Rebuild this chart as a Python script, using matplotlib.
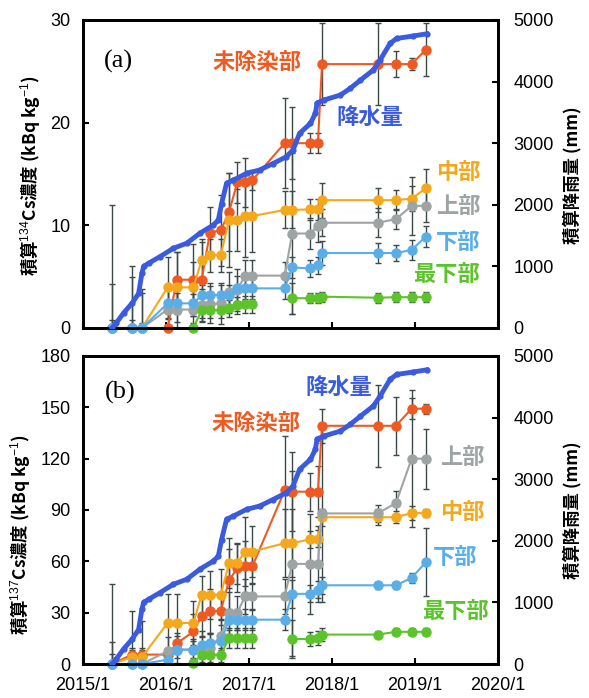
import numpy as np
import matplotlib.pyplot as plt

plt.rcParams['font.family'] = ['Liberation Sans', 'Noto Sans CJK JP', 'DejaVu Sans']
plt.rcParams['mathtext.fontset'] = 'custom'
plt.rcParams['mathtext.rm'] = 'Liberation Sans'
plt.rcParams['mathtext.it'] = 'Liberation Sans'
plt.rcParams['mathtext.bf'] = 'Liberation Sans:bold'

nan = np.nan

# sampling dates (decimal years)
dates = [2015.35, 2015.59, 2015.71, 2016.02, 2016.13, 2016.33, 2016.43, 2016.53, 2016.66,
         2016.76, 2016.86, 2016.95, 2017.04, 2017.43, 2017.52, 2017.73, 2017.83, 2017.88,
         2018.55, 2018.77, 2018.96, 2019.13]

# (a) cumulative 134Cs (kBq/kg)
mijosen_134 = [0, 0, 0, 0, 4.7, 4.7, 4.7, 9.3, 9.5, 11.3, 14.2, 14.2, 14.4, 18.0, 18.0, 18.0, 18.0,
               25.7, 25.7, 25.7, 25.7, 27.1]
mijosen_134_err = [0, 0, 0, 0, 2.7, 3.5, 4.0, 2.5, 3.5, 3.8, 2.0, 2.4, 1.0, 4.4, 3.5, 1.0, 1.0,
                   4.0, 4.0, 1.3, 0.6, 2.6]
chubu_134 = [0, 0, 0, 3.96, 3.96, 3.96, 6.6, 7.1, 7.1, 10.5, 10.5, 10.9, 10.9, 11.5, 11.5, 11.55, 11.55,
             12.45, 12.45, 12.45, 12.6, 13.6]
chubu_134_err = [0.8, 0.8, 0.5, 3.0, 3.4, 2.5, 1.8, 1.6, 1.6, 4.6, 3.0, 4.0, 3.5, 1.8, 1.8, 1.0, 1.0,
                 1.7, 1.2, 1.0, 1.2, 1.9]
jobu_134 = [0, 0, 0, 1.8, 1.8, 1.8, 2.2, 2.3, 2.4, 3.5, 3.7, 5.1, 5.1, 5.1, 9.2, 9.2, 9.9,
            10.25, 10.25, 10.6, 11.9, 11.9]
jobu_134_err = [12.0, 6.0, 3.8, 2.0, 2.0, 1.5, 1.6, 1.8, 2.0, 2.0, 2.0, 1.5, 1.5, 1.3, 7.8, 1.5, 1.5,
                1.3, 1.4, 1.0, 2.8, 1.6]
kabu_134 = [0, 0, 0, 2.4, 2.4, 2.4, 3.2, 3.2, 3.2, 3.2, 3.86, 3.86, 3.86, 3.86, 5.9, 5.8, 6.1,
            7.3, 7.3, 7.3, 7.6, 8.9]
kabu_134_err = [4.3, 5.0, 3.4, 1.5, 1.0, 1.2, 1.0, 1.2, 1.0, 1.0, 1.2, 1.0, 1.0, 1.0, 1.0, 0.8, 0.8,
                1.2, 1.0, 0.8, 1.0, 1.0]
saikabu_134 = [nan, nan, nan, nan, nan, 0, 1.75, 1.75, 1.75, 1.9, 2.2, 2.3, 2.3, nan, 2.9, 2.9, 2.9,
               3.05, 2.95, 3.0, 3.0, 3.0]
saikabu_134_err = [nan, nan, nan, nan, nan, 0.5, 0.8, 0.8, 0.8, 0.8, 0.8, 0.8, 0.8, nan, 1.5, 0.5, 0.5,
                   0.5, 0.5, 0.5, 0.5, 0.5]

# (b) cumulative 137Cs (kBq/kg)
mijosen_137 = [0, 5.5, 5.5, 5.5, 12.0, 19.0, 28.0, 31.0, 31.0, 49.0, 56.0, 57.0, 57.0, 101.5, 100.7,
               100.7, 100.7, 139.2, 139.2, 139.2, 149.2, 149.2]
mijosen_137_err = [0, 4, 4, 4, 6, 10, 12, 13, 8, 18, 14, 15, 10, 32, 23, 11, 15, 10, 24, 17, 6, 3]
chubu_137 = [0, 4.0, 4.0, 24.0, 24.0, 24.0, 40.5, 40.5, 40.5, 59.0, 59.0, 65.7, 65.7, 70.6, 70.6,
             72.8, 73.2, 85.8, 85.8, 85.8, 88.2, 88.2]
chubu_137_err = [13, 4, 4, 17, 17, 13, 11, 14, 15, 14.5, 12, 20, 15, 20, 20, 5, 5, 5, 4.5, 3.5, 4, 2.5]
jobu_137 = [0, 0, 0, 7.5, 8.4, 8.4, 9.3, 9.3, 16.5, 29.8, 29.8, 39.5, 39.5, 39.5, 58.5, 58.5, 58.5,
            88.0, 88.0, 94.0, 120.0, 120.0]
jobu_137_err = [47, 31, 25, 8, 8, 6, 10, 9, 10, 12, 10, 10, 8, 10, 54, 29, 22, 52, 5, 7, 40, 17.5]
kabu_137 = [0, 0, 0, 2.5, 8.4, 8.4, 11.3, 12.3, 13.2, 25.9, 25.9, 25.9, 25.9, 25.9, 41.0, 41.0, 43.5,
            46.0, 46.0, 46.0, 50.3, 59.5]
kabu_137_err = [6, 6, 5, 4, 5, 5, 5, 5, 5, 6, 6, 6, 6, 6, 8, 5, 5, 5, 2, 2, 3, 20]
saikabu_137 = [nan, nan, nan, nan, nan, 0.6, 5.4, 5.4, 5.4, 15.2, 15.2, 15.2, 15.2, nan, 14.6, 14.6,
               15.0, 17.2, 17.2, 18.8, 18.8, 18.8]
saikabu_137_err = [nan, nan, nan, nan, nan, 2, 4, 4, 4, 6, 6, 6, 6, nan, 11, 4, 4, 4, 2, 2, 2, 2]

# cumulative precipitation (mm)
rain_dates = [2015.35, 2015.40, 2015.49, 2015.59, 2015.67, 2015.71, 2015.73, 2015.79, 2015.93, 2016.09,
              2016.25, 2016.41, 2016.57, 2016.63, 2016.67, 2016.73, 2016.81, 2016.97, 2017.13, 2017.29,
              2017.45, 2017.53, 2017.61, 2017.74, 2017.80, 2017.82, 2017.90, 2018.10, 2018.22, 2018.34,
              2018.50, 2018.58, 2018.70, 2018.78, 2018.98, 2019.14]
rain_mm = [0, 80, 245, 400, 560, 890, 1000, 1050, 1160, 1295, 1375, 1540, 1670, 1750, 2020, 2350, 2400,
           2510, 2565, 2670, 2780, 2890, 3160, 3320, 3485, 3650, 3700, 3780, 3890, 4020, 4190, 4350,
           4620, 4700, 4740, 4775]

year_ticks = [2015, 2016, 2017, 2018, 2019, 2020]
year_labels = ['2015/1', '2016/1', '2017/1', '2018/1', '2019/1', '2020/1']

c_mijosen = '#EE5A22'
c_chubu = '#F5A81C'
c_jobu = '#9EA4A4'
c_kabu = '#5AAEE8'
c_saikabu = '#5CC42A'
c_rain = '#3A5BE0'
c_err = '#3d4a4a'
cjk = ['Noto Sans CJK JP', 'DejaVu Sans']


def draw_panel(ax, series, ymax, ystep, label_pos, tag, tag_pos):
    for vals, errs, col in series:
        ax.errorbar(dates, vals, yerr=errs, fmt='none', ecolor=c_err, elinewidth=1,
                    capsize=2.5, capthick=1, zorder=2)
    for vals, errs, col in series:
        ax.plot(dates, vals, color=col, lw=1.5, marker='o', ms=6.5, mec=col, zorder=3, clip_on=False)
    ax.set_xlim(2015, 2020)
    ax.set_ylim(0, ymax)
    ax.set_yticks(np.arange(0, ymax + 1, ystep))
    ax.set_xticks(year_ticks)
    ax.tick_params(direction='in', length=4, width=1.5, labelsize=13, pad=9,
                   right=False, top=False)
    for s in ax.spines.values():
        s.set_linewidth(2)

    ax2 = ax.twinx()
    ax2.plot(rain_dates, rain_mm, color=c_rain, lw=3.5, marker='o', ms=3.5, zorder=4)
    ax2.set_ylim(0, 5000)
    ax2.set_yticks(np.arange(0, 5001, 1000))
    ax2.tick_params(direction='in', length=4, width=1.5, labelsize=13, pad=11)
    for s in ax2.spines.values():
        s.set_linewidth(2)

    ax.text(tag_pos[0], tag_pos[1], tag, transform=ax.transAxes, fontsize=19,
            family='Liberation Serif', ha='center', va='center')
    for txt, col, (x, y) in label_pos:
        ax.text(x, y, txt, transform=ax.transAxes, color=col, fontsize=16, fontweight='bold',
                family=cjk, ha='center', va='center', zorder=10)
    return ax2


fig = plt.figure(figsize=(5.89, 6.98), dpi=100)
ax_a = fig.add_axes([0.1409, 0.5301, 0.7046, 0.4413])
ax_b = fig.add_axes([0.1409, 0.0487, 0.7046, 0.4413])

series_a = [(mijosen_134, mijosen_134_err, c_mijosen),
            (chubu_134, chubu_134_err, c_chubu),
            (jobu_134, jobu_134_err, c_jobu),
            (kabu_134, kabu_134_err, c_kabu),
            (saikabu_134, saikabu_134_err, c_saikabu)]
labels_a = [('未除染部', c_mijosen, (0.42, 0.862)),
            ('降水量', c_rain, (0.692, 0.683)),
            ('中部', c_chubu, (0.905, 0.505)),
            ('上部', c_jobu, (0.905, 0.396)),
            ('下部', c_kabu, (0.904, 0.278)),
            ('最下部', c_saikabu, (0.876, 0.175))]
draw_panel(ax_a, series_a, 30, 10, labels_a, '(a)', (0.085, 0.864))
ax_a.set_xticklabels([])

series_b = [(mijosen_137, mijosen_137_err, c_mijosen),
            (chubu_137, chubu_137_err, c_chubu),
            (jobu_137, jobu_137_err, c_jobu),
            (kabu_137, kabu_137_err, c_kabu),
            (saikabu_137, saikabu_137_err, c_saikabu)]
labels_b = [('未除染部', c_mijosen, (0.417, 0.781)),
            ('降水量', c_rain, (0.616, 0.898)),
            ('上部', c_jobu, (0.914, 0.670)),
            ('中部', c_chubu, (0.914, 0.492)),
            ('下部', c_kabu, (0.896, 0.346)),
            ('最下部', c_saikabu, (0.898, 0.172))]
draw_panel(ax_b, series_b, 180, 30, labels_b, '(b)', (0.09, 0.883))
ax_b.set_xticklabels(year_labels)

# axis titles
fig.text(30 / 589, 1 - 176 / 698, '積算$^{134}$Cs濃度 (kBq kg$^{-1}$)', rotation=90,
         ha='center', va='center', fontsize=12.5, fontweight='bold', family=cjk)
fig.text(20 / 589, 1 - 535 / 698, '積算$^{137}$Cs濃度 (kBq kg$^{-1}$)', rotation=90,
         ha='center', va='center', fontsize=12.5, fontweight='bold', family=cjk)
fig.text(572 / 589, 1 - 175 / 698, '積算降雨量 (mm)', rotation=90,
         ha='center', va='center', fontsize=12.5, fontweight='bold', family=cjk)
fig.text(572 / 589, 1 - 510 / 698, '積算降雨量 (mm)', rotation=90,
         ha='center', va='center', fontsize=12.5, fontweight='bold', family=cjk)

fig.savefig('out.png', dpi=100)
